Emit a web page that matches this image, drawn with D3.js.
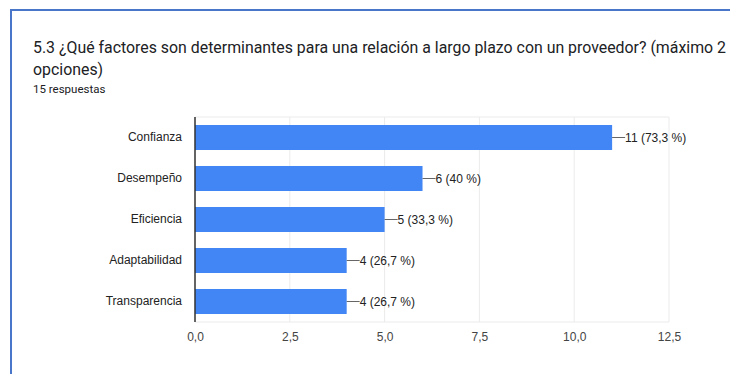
<!DOCTYPE html>
<html>
<head>
<meta charset="utf-8">
<script src="https://cdn.jsdelivr.net/npm/d3@7"></script>
<style>
  html, body { margin: 0; padding: 0; background: #fff; }
  svg { display: block; font-family: Roboto, Arial, sans-serif; }
</style>
</head>
<body>
<svg id="chart" width="730" height="374"></svg>
<script>
// Survey answers: number of respondents per factor
const categories = ["Confianza", "Desempeño", "Eficiencia", "Adaptabilidad", "Transparencia"];
const counts = [11, 6, 5, 4, 4];
const percentLabels = ["73,3", "40", "33,3", "26,7", "26,7"];
const tickValues = [0, 2.5, 5, 7.5, 10, 12.5];
const totalResponses = 15;

const svg = d3.select("#chart");
const labelFont = "Arial, 'Liberation Sans', sans-serif";

// card frame (top and left edges)
svg.append("line").attr("x1", 11).attr("x2", 730).attr("y1", 10).attr("y2", 10)
  .attr("stroke", "#4a76c9").attr("stroke-width", 2);
svg.append("line").attr("x1", 11).attr("x2", 11).attr("y1", 9).attr("y2", 374)
  .attr("stroke", "#4a76c9").attr("stroke-width", 2);

// title
const t1 = svg.append("text").attr("x", 33).attr("y", 53)
  .attr("fill", "#202124").attr("font-size", 16.5)
  .text("5.3 ¿Qué factores son determinantes para una relación a largo plazo con un proveedor? (máximo 2");
const w = t1.node().getComputedTextLength();
t1.attr("font-size", 16.5 * 694 / w);
svg.append("text").attr("x", 33).attr("y", 75)
  .attr("fill", "#202124").attr("font-size", 16.5 * 694 / w)
  .text("opciones)");
svg.append("text").attr("x", 33).attr("y", 93)
  .attr("fill", "#202124").attr("font-size", 11.5)
  .text(totalResponses + " respuestas");

// scales
const x = d3.scaleLinear().domain([0, 12.5]).range([195, 669]);
const y = d3.scaleBand().domain(categories).range([117, 322]).paddingInner(0.39).paddingOuter(0.195);

// grid
const grid = svg.append("g");
grid.selectAll("line.v").data(tickValues).join("line")
  .attr("x1", d => x(d)).attr("x2", d => x(d))
  .attr("y1", 117).attr("y2", 322)
  .attr("stroke", "#ebebeb").attr("stroke-width", 1);
grid.append("line").attr("x1", 195).attr("x2", 669).attr("y1", 117).attr("y2", 117)
  .attr("stroke", "#ebebeb");
grid.append("line").attr("x1", 195).attr("x2", 669).attr("y1", 322).attr("y2", 322)
  .attr("stroke", "#ebebeb");

// x axis
const xAxis = d3.axisBottom(x).tickValues(tickValues)
  .tickFormat(d => d3.format(".1f")(d).replace(".", ","))
  .tickSize(0).tickPadding(10);
const gx = svg.append("g").attr("transform", "translate(0,322)").call(xAxis);
gx.select(".domain").remove();
gx.selectAll("text").attr("fill", "#444").attr("font-size", 12)
  .attr("font-family", labelFont);

// bars
const rows = categories.map((c, i) => ({ c, v: counts[i], p: percentLabels[i] }));
svg.append("g").selectAll("rect").data(rows).join("rect")
  .attr("x", x(0)).attr("y", d => y(d.c))
  .attr("width", d => x(d.v) - x(0)).attr("height", y.bandwidth())
  .attr("fill", "#4285f4");

// y axis
const yAxis = d3.axisLeft(y).tickSize(0).tickPadding(13);
const gy = svg.append("g").attr("transform", "translate(195,0)").call(yAxis);
gy.select(".domain").remove();
gy.selectAll("text").attr("fill", "#222").attr("font-size", 12)
  .attr("font-family", labelFont);
svg.append("line").attr("x1", 195).attr("x2", 195).attr("y1", 117).attr("y2", 322)
  .attr("stroke", "#333").attr("stroke-width", 1.5);

// value annotations
const ann = svg.append("g").selectAll("g").data(rows).join("g")
  .attr("transform", d => `translate(${x(d.v)},${y(d.c) + y.bandwidth() / 2})`);
ann.append("line").attr("x1", 0).attr("x2", 13).attr("stroke", "#666").attr("stroke-width", 1);
ann.append("text").attr("x", 13).attr("dy", "0.35em")
  .attr("fill", "#222").attr("font-size", 12).attr("font-family", labelFont)
  .text(d => `${d.v} (${d.p} %)`);
</script>
</body>
</html>
